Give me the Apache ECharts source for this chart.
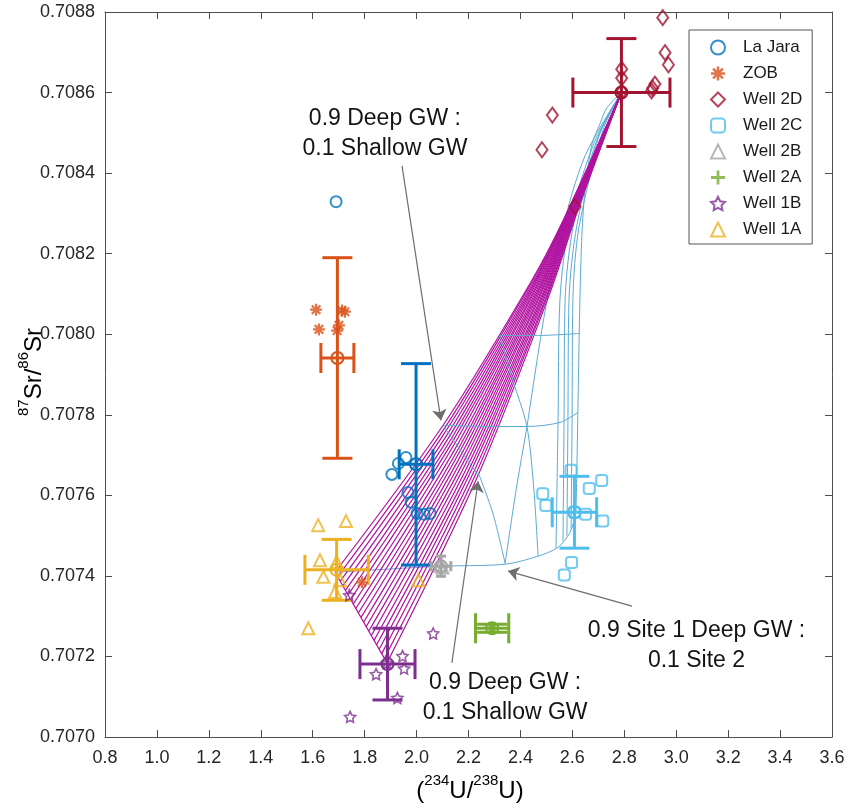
<!DOCTYPE html>
<html><head><meta charset="utf-8">
<script src="https://cdn.jsdelivr.net/npm/echarts/dist/echarts.min.js"></script>
<style>html,body{margin:0;padding:0;background:#fff}#chart{width:850px;height:810px}</style>
</head><body><div id="chart"></div>
<script>
// ---------------- data ----------------
const xTickLabels = ['0.8','1.0','1.2','1.4','1.6','1.8','2.0','2.2','2.4','2.6','2.8','3.0','3.2','3.4','3.6'];
const yTickLabels = ['0.7070','0.7072','0.7074','0.7076','0.7078','0.7080','0.7082','0.7084','0.7086','0.7088'];

const groupNames = ['La Jara','ZOB','Well 2D','Well 2C','Well 2B','Well 2A','Well 1B','Well 1A'];

const laJaraPts = [[1.690,0.708329],[1.959,0.707694],[1.930,0.707679],[1.905,0.707652],[1.967,0.707607],[1.979,0.707583],[2.002,0.707555],[2.029,0.707553],[2.052,0.707555]];
const zobPts = [[1.613,0.708061],[1.713,0.708059],[1.724,0.708056],[1.624,0.708012],[1.694,0.708009],[1.701,0.708022],[1.790,0.707384]];
const well2DPts = [[2.948,0.708786],[2.957,0.708699],[2.970,0.708669],[2.918,0.708621],[2.909,0.708611],[2.905,0.708604],[2.790,0.708658],[2.790,0.708636],[2.790,0.708602],[2.523,0.708544],[2.483,0.708458],[2.610,0.708317]];
const well2CPts = [[2.595,0.707662],[2.713,0.707637],[2.665,0.707617],[2.486,0.707604],[2.498,0.707575],[2.651,0.707553],[2.717,0.707536],[2.597,0.707433],[2.569,0.707402],[2.608,0.707558]];
const well2BPts = [[2.090,0.707425],[2.100,0.707421]];
const well2APts = [[2.282,0.707271],[2.300,0.707270]];
const well1BPts = [[1.741,0.707352],[2.064,0.707257],[1.946,0.707201],[1.952,0.707170],[1.844,0.707156],[1.926,0.707097],[1.744,0.707050],[1.886,0.707184]];
const well1APts = [[1.621,0.707526],[1.728,0.707536],[1.628,0.707439],[1.692,0.707435],[1.641,0.707398],[1.705,0.707389],[1.686,0.707360],[1.583,0.707270],[2.007,0.707389]];

// group means and errors (same order as groupNames)
const meanX = [1.998, 1.695, 2.789, 2.608, 2.094, 2.291, 1.888, 1.692];
const meanY = [0.707677, 0.707941, 0.708600, 0.707558, 0.707424, 0.707270, 0.707181, 0.707415];
const errX  = [0.065, 0.0635, 0.187, 0.0855, 0.038, 0.064, 0.106, 0.122];
const errY  = [0.00025, 0.000249, 0.000134, 0.0000892, 0.000025, 0.00001, 0.000089, 0.0000756];

// magenta mixing curves (Well 1A–1B shallow end members to deep end member)
const deepEnd = [2.789, 0.708600];
const magBaseX = [1.686,1.696,1.706,1.716,1.726,1.736,1.746,1.756,1.766,1.776,1.786,1.796,1.806,1.816,1.826,1.836,1.846,1.856,1.866,1.876,1.886];
const magBaseY = [0.707409,0.707398,0.707387,0.707375,0.707364,0.707353,0.707342,0.707330,0.707319,0.707308,0.707297,0.707285,0.707274,0.707263,0.707252,0.707240,0.707229,0.707218,0.707207,0.707195,0.707184];
const magIsoX = [2.102,2.109,2.115,2.122,2.129,2.136,2.142,2.149,2.156,2.163,2.169,2.176,2.183,2.189,2.196,2.203,2.210,2.216,2.223,2.230,2.237];
const magIsoY = [0.707774,0.707768,0.707762,0.707755,0.707749,0.707743,0.707737,0.707731,0.707724,0.707718,0.707712,0.707706,0.707700,0.707693,0.707687,0.707681,0.707675,0.707669,0.707662,0.707656,0.707650];
const magUpX = [2.437,2.440,2.444,2.448,2.451,2.455,2.459,2.462,2.466,2.470,2.473,2.477,2.481,2.484,2.488,2.492,2.495,2.499,2.503,2.506,2.510];
const magUpY = [0.708126,0.708125,0.708123,0.708122,0.708120,0.708119,0.708117,0.708116,0.708114,0.708113,0.708111,0.708110,0.708108,0.708107,0.708105,0.708104,0.708102,0.708101,0.708099,0.708098,0.708096];
const magHighX = [2.564,2.567,2.570,2.573,2.576,2.579,2.582,2.586,2.589,2.592,2.595,2.598,2.601,2.604,2.607,2.610,2.613,2.616,2.619,2.622,2.626];
const magHighY = [0.708282,0.708284,0.708285,0.708287,0.708289,0.708291,0.708293,0.708294,0.708296,0.708298,0.708300,0.708301,0.708303,0.708305,0.708307,0.708308,0.708310,0.708312,0.708314,0.708315,0.708317];
const magEdge = [[1.686,0.707409],[1.886,0.707184]];

// light-blue mixing grid
const blueBase = [[1.686,0.707409],[2.094,0.707424],[2.341,0.707429],[2.468,0.707449],[2.545,0.707471],[2.591,0.707508],[2.614,0.707558]];
const blueRight = [[2.614,0.707558],[2.618,0.707687],[2.622,0.707836],[2.629,0.708083],[2.637,0.708250],[2.649,0.708364],[2.660,0.708413],[2.676,0.708473],[2.706,0.708522],[2.733,0.708562],[2.789,0.708600]];
const blueV1 = [[2.537,0.707469],[2.545,0.707786],[2.552,0.708083],[2.591,0.708282],[2.687,0.708480],[2.789,0.708600]];
const blueV2 = [[2.564,0.707486],[2.568,0.707786],[2.572,0.708083],[2.606,0.708277],[2.699,0.708490],[2.789,0.708600]];
const blueV3 = [[2.579,0.707498],[2.583,0.707786],[2.587,0.708083],[2.618,0.708272],[2.706,0.708498],[2.789,0.708600]];
const blueV4 = [[2.595,0.707517],[2.599,0.707786],[2.602,0.708083],[2.626,0.708267],[2.718,0.708507],[2.789,0.708600]];
const blueCross2 = [[2.341,0.707431],[2.383,0.707612],[2.425,0.707771],[2.464,0.707935],[2.502,0.708083],[2.560,0.708257],[2.649,0.708443],[2.789,0.708600]];
const blueIsoA = [[2.102,0.707774],[2.283,0.707771],[2.425,0.707771],[2.552,0.707781],[2.622,0.707806]];
const blueIsoB = [[2.321,0.707997],[2.475,0.707997],[2.626,0.708002]];
const blueIsoMag = [[2.102,0.707774],[2.169,0.707712],[2.237,0.707650]];
const blueCross1 = [[2.237,0.707657],[2.294,0.707555],[2.341,0.707431]];
const blueCross3 = [[2.321,0.707997],[2.371,0.707885],[2.425,0.707771],[2.452,0.707612],[2.468,0.707449]];

// annotations
const annText = ['0.9 Deep GW :\n0.1 Shallow GW', '0.9 Deep GW :\n0.1 Shallow GW', '0.9 Site 1 Deep GW :\n0.1 Site 2'];
const annX = [1.878, 2.341, 3.078];
const annY = [0.708498, 0.707097, 0.707228];
const arrowFrom = [[1.944,0.708418],[2.136,0.707184],[2.830,0.707325]];
const arrowTo   = [[2.094,0.707786],[2.237,0.707635],[2.352,0.707412]];

// ---------------- styles ----------------
const FONT = '"Liberation Sans", Arial, Helvetica, sans-serif';
const groupColors = ['#0072BD','#D95319','#A2142F','#4DBEEE','#A6A6A6','#77AC30','#7E2F8E','#EDB120'];
const groupPts = [laJaraPts, zobPts, well2DPts, well2CPts, well2BPts, well2APts, well1BPts, well1APts];
const ASTERISK = 'path://M-1.1,-6L1.1,-6L1.1,6L-1.1,6Z M-6,-1.1L6,-1.1L6,1.1L-6,1.1Z M-5.02,-3.46L-3.46,-5.02L5.02,3.46L3.46,5.02Z M3.46,-5.02L5.02,-3.46L-3.46,5.02L-5.02,3.46Z';
const PLUS = 'path://M-1.2,-6L1.2,-6L1.2,-1.2L6,-1.2L6,1.2L1.2,1.2L1.2,6L-1.2,6L-1.2,1.2L-6,1.2L-6,-1.2L-1.2,-1.2Z';
const STAR = 'path://M0,-5L1.47,-2.02L4.76,-1.55L2.38,0.77L2.94,4.05L0,2.5L-2.94,4.05L-2.38,0.77L-4.76,-1.55L-1.47,-2.02Z';
const symbols = ['circle', ASTERISK, 'diamond', 'roundRect', 'triangle', PLUS, STAR, 'triangle'];
const symSizes = [11, 12, [11,15], 11, 12, 12, 11, 12];
const legendSizes = [[12,12],[12,12],[10,14],[11,11],[13,12],[12,12],[12,12],[13,12]];
const filled = [false, true, false, false, false, true, false, false];
const borderW = [2, 0, 2, 2, 2, 0, 1.6, 2];
const capPx = [30, 30, 30, 30, 10, 30, 30, 30];
const MAG = '#B0139F';
const BLUE = '#5BAAD3';

const xMin = parseFloat(xTickLabels[0]), xMax = parseFloat(xTickLabels[xTickLabels.length-1]);
const yMin = parseFloat(yTickLabels[0]), yMax = parseFloat(yTickLabels[yTickLabels.length-1]);
const xStep = 0.2, yStep = 0.0002;

function axisCommon(isX, pos, showLabel) {
  const o = {
    type: 'value', position: pos,
    min: isX ? xMin : yMin, max: isX ? xMax : yMax, interval: isX ? xStep : yStep,
    axisLine: { show: true, onZero: false, lineStyle: { color: '#4d4d4d', width: 1 } },
    axisTick: { show: true, inside: true, length: 7, lineStyle: { color: '#4d4d4d', width: 1 } },
    splitLine: { show: false },
    axisLabel: { show: showLabel }
  };
  if (showLabel) {
    o.axisLabel = {
      show: true, margin: isX ? 12 : 10, fontSize: 18, color: '#262626', fontFamily: FONT,
      formatter: isX ? (v => xTickLabels[Math.round((v - xMin) / xStep)])
                     : (v => yTickLabels[Math.round((v - yMin) / yStep)])
    };
  }
  return o;
}

const series = [];
// scatter points (first, so legend uses them)
groupNames.forEach((name, i) => {
  series.push({
    name, type: 'scatter', data: groupPts[i], symbol: symbols[i], symbolSize: symSizes[i],
    itemStyle: filled[i] ? { color: groupColors[i] } :
      { color: 'rgba(255,255,255,0)', borderColor: groupColors[i], borderWidth: borderW[i] },
    z: 5, silent: true
  });
});
// error bars with mean markers
groupNames.forEach((name, i) => {
  const c = groupColors[i], cap = capPx[i] / 2;
  series.push({
    name, type: 'custom', silent: true, z: 4,
    data: [[meanX[i], meanY[i], errX[i], errY[i]]],
    renderItem(params, api) {
      const x = api.value(0), y = api.value(1), ex = api.value(2), ey = api.value(3);
      const m = api.coord([x, y]), t = api.coord([x, y + ey]), b = api.coord([x, y - ey]);
      const l = api.coord([x - ex, y]), r = api.coord([x + ex, y]);
      const st = { stroke: c, lineWidth: 3, fill: null };
      const ln = (x1, y1, x2, y2) => ({ type: 'line', shape: { x1, y1, x2, y2 }, style: st });
      return { type: 'group', children: [
        ln(t[0], t[1], b[0], b[1]),
        ln(t[0] - cap, t[1], t[0] + cap, t[1]),
        ln(b[0] - cap, b[1], b[0] + cap, b[1]),
        ln(l[0], l[1], r[0], r[1]),
        ln(l[0], l[1] - cap, l[0], l[1] + cap),
        ln(r[0], r[1] - cap, r[0], r[1] + cap),
        { type: 'circle', shape: { cx: m[0], cy: m[1], r: 6 }, style: { stroke: c, lineWidth: 2, fill: 'rgba(255,255,255,0)' } }
      ] };
    }
  });
});
function addLine(pts, color, width, z) {
  series.push({ type: 'line', data: pts, showSymbol: false, symbol: 'none', smooth: 0.3,
    lineStyle: { color, width }, silent: true, z, emphasis: { disabled: true } });
}
// light-blue fan (under)
[blueBase, blueRight, blueV1, blueV2, blueV3, blueV4, blueCross2].forEach(p => addLine(p, BLUE, 1, 1));
// magenta fan
magBaseX.forEach((_, i) => addLine([[magBaseX[i], magBaseY[i]], [magIsoX[i], magIsoY[i]], [magUpX[i], magUpY[i]], [magHighX[i], magHighY[i]], deepEnd], MAG, 1.2, 2));
addLine(magEdge, MAG, 1.2, 2);
// light-blue cross curves (over)
[blueIsoA, blueIsoB, blueIsoMag, blueCross1, blueCross3].forEach(p => addLine(p, BLUE, 1, 3));
// arrows
series.push({
  type: 'lines', coordinateSystem: 'cartesian2d', silent: true, z: 6,
  symbol: ['none', 'arrow'], symbolSize: 11,
  lineStyle: { color: '#6e6e6e', width: 1.2, opacity: 1 },
  data: arrowFrom.map((f, i) => ({ coords: [f, arrowTo[i]] }))
});
// annotation text (placed in data coordinates)
series.push({
  type: 'custom', silent: true, z: 7,
  data: annX.map((x, i) => [x, annY[i], i]),
  renderItem(params, api) {
    const p = api.coord([api.value(0), api.value(1)]);
    return { type: 'text', x: p[0], y: p[1],
      style: { text: annText[api.value(2)], fill: '#141414', font: '23px ' + FONT,
        align: 'center', verticalAlign: 'middle', lineHeight: 30 } };
  }
});

const rich = {
  b: { fontSize: 24, fontFamily: FONT, color: '#262626', lineHeight: 30, verticalAlign: 'bottom' },
  s: { fontSize: 15, fontFamily: FONT, color: '#262626', lineHeight: 16, verticalAlign: 'top' }
};

const option = {
  animation: false,
  backgroundColor: '#fff',
  grid: { left: 105, right: 18, top: 12, bottom: 73, containLabel: false, outerBoundsMode: 'none' },
  xAxis: [axisCommon(true, 'bottom', true), axisCommon(true, 'top', false)],
  yAxis: [axisCommon(false, 'left', true), axisCommon(false, 'right', false)],
  legend: {
    orient: 'vertical', left: 689, top: 30, padding: [9, 10, 6, 21], itemGap: 9,
    itemWidth: 14, itemHeight: 14, selectedMode: false,
    backgroundColor: '#fff', borderColor: '#555', borderWidth: 1, borderRadius: 0,
    formatter: n => '{p| }' + n,
    textStyle: { fontSize: 17, lineHeight: 14, color: '#1a1a1a', fontFamily: FONT,
      rich: { p: { width: 13, fontSize: 17, lineHeight: 14 } } },
    data: groupNames.map((n, i) => ({ name: n, icon: symbols[i] }))
  },
  graphic: [
    { type: 'text', x: 31, y: 372, rotation: Math.PI / 2,
      style: { text: '{s|87}{b|Sr/}{s|86}{b|Sr}', rich, align: 'center', verticalAlign: 'middle' } },
    { type: 'text', x: 470, y: 788,
      style: { text: '{b|(}{s|234}{b|U/}{s|238}{b|U)}', rich, align: 'center', verticalAlign: 'middle' } }
  ],
  series
};
const chart = echarts.init(document.getElementById('chart'), null, { renderer: 'canvas' });
chart.setOption(option);
</script></body></html>
